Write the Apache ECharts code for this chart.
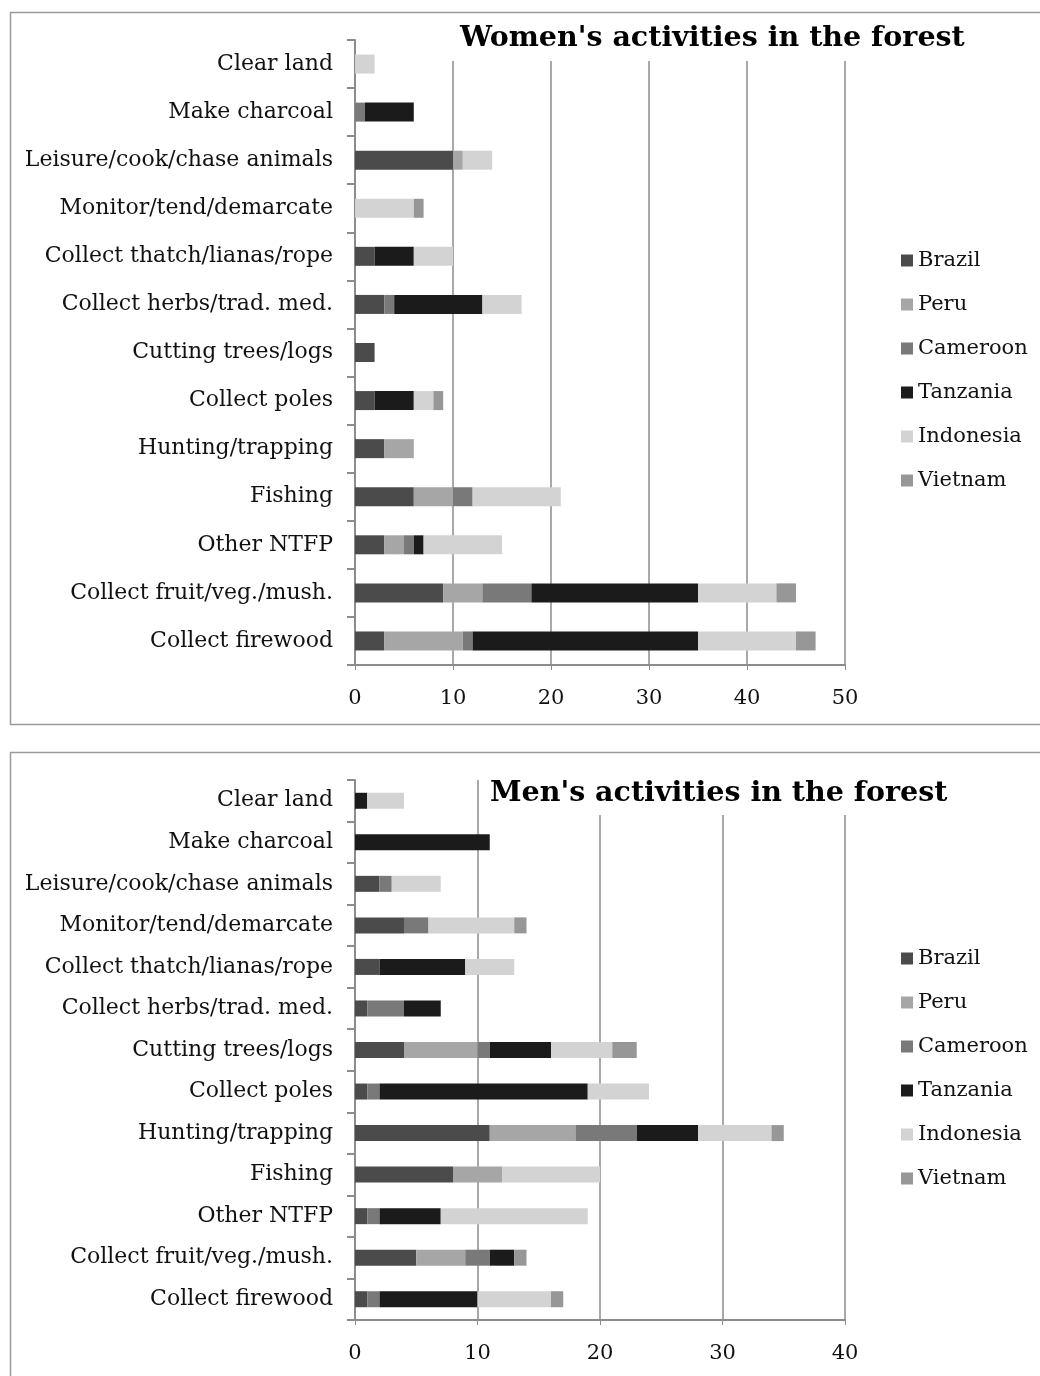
<!DOCTYPE html>
<html>
<head>
<meta charset="utf-8">
<script src="https://cdn.jsdelivr.net/npm/echarts@6/dist/echarts.min.js"></script>
<style>
  html, body { margin: 0; padding: 0; background: #fff; }
  #chart { width: 1040px; height: 1376px; }
</style>
</head>
<body>
<div id="chart"></div>
<script>
// activities, top to bottom (same list for both panels)
const activities = [
  'Clear land', 'Make charcoal', 'Leisure/cook/chase animals', 'Monitor/tend/demarcate',
  'Collect thatch/lianas/rope', 'Collect herbs/trad. med.', 'Cutting trees/logs',
  'Collect poles', 'Hunting/trapping', 'Fishing', 'Other NTFP',
  'Collect fruit/veg./mush.', 'Collect firewood'
];
const countries = ['Brazil', 'Peru', 'Cameroon', 'Tanzania', 'Indonesia', 'Vietnam'];
const countryColors = ['#4b4b4b', '#a6a6a6', '#797979', '#1b1b1b', '#d3d3d3', '#979797'];

// women
const womenBrazil    = [0, 0, 10, 0, 2, 3, 2, 2, 3, 6, 3, 9, 3];
const womenPeru      = [0, 0, 1, 0, 0, 0, 0, 0, 3, 4, 2, 4, 8];
const womenCameroon  = [0, 1, 0, 0, 0, 1, 0, 0, 0, 2, 1, 5, 1];
const womenTanzania  = [0, 5, 0, 0, 4, 9, 0, 4, 0, 0, 1, 17, 23];
const womenIndonesia = [2, 0, 3, 6, 4, 4, 0, 2, 0, 9, 8, 8, 10];
const womenVietnam   = [0, 0, 0, 1, 0, 0, 0, 1, 0, 0, 0, 2, 2];

// men
const menBrazil    = [0, 0, 2, 4, 2, 1, 4, 1, 11, 8, 1, 5, 1];
const menPeru      = [0, 0, 0, 0, 0, 0, 6, 0, 7, 4, 0, 4, 0];
const menCameroon  = [0, 0, 1, 2, 0, 3, 1, 1, 5, 0, 1, 2, 1];
const menTanzania  = [1, 11, 0, 0, 7, 3, 5, 17, 5, 0, 5, 2, 8];
const menIndonesia = [3, 0, 4, 7, 4, 0, 5, 5, 6, 8, 12, 0, 6];
const menVietnam   = [0, 0, 0, 1, 0, 0, 2, 0, 1, 0, 0, 1, 1];

const womenData = [womenBrazil, womenPeru, womenCameroon, womenTanzania, womenIndonesia, womenVietnam];
const menData = [menBrazil, menPeru, menCameroon, menTanzania, menIndonesia, menVietnam];

const FONT = 'DejaVu Serif';
const LINE = '#8c8c8c';

function valueAxis(gridIndex, max) {
  return {
    type: 'value', gridIndex, min: 0, max, interval: 10,
    axisLine: { show: true, lineStyle: { color: LINE, width: 2 } },
    axisTick: { show: true, length: 5, lineStyle: { color: LINE } },
    splitLine: { show: true, lineStyle: { color: LINE, width: 1.5 } },
    axisLabel: { color: '#111', fontFamily: FONT, fontSize: 21, margin: 23 }
  };
}

function categoryAxis(gridIndex) {
  return {
    type: 'category', gridIndex, data: activities, inverse: true,
    axisLine: { show: true, lineStyle: { color: LINE, width: 2 } },
    axisTick: { show: true, length: 8, lineStyle: { color: LINE, width: 2 } },
    axisLabel: { color: '#111', fontFamily: FONT, fontSize: 22, margin: 22 }
  };
}

function makeSeries(data, idx, barWidth) {
  return countries.map((name, i) => ({
    name, type: 'bar', stack: 'total' + idx,
    xAxisIndex: idx, yAxisIndex: idx,
    barWidth, data: data[i],
    itemStyle: { color: countryColors[i] },
    silent: true
  }));
}

function legend(top) {
  return {
    orient: 'vertical', left: 896, top,
    icon: 'rect', itemWidth: 12, itemHeight: 12, itemGap: 23,
    data: countries,
    textStyle: { color: '#111', fontFamily: FONT, fontSize: 21, lineHeight: 21 }
  };
}

const titleStyle = { fontFamily: FONT, fontWeight: 'bold', fontSize: 28.5, color: '#000' };

const chart = echarts.init(document.getElementById('chart'));
chart.setOption({
  animation: false,
  color: countryColors,
  title: [
    {
      text: "Women's activities in the forest", left: 448, top: 20,
      padding: [4, 12, 8, 12], backgroundColor: '#fff', textStyle: titleStyle
    },
    {
      text: "Men's activities in the forest", left: 480, top: 775,
      padding: [4, 10, 7, 10], backgroundColor: '#fff', textStyle: titleStyle
    }
  ],
  legend: [legend(245), legend(943)],
  grid: [
    { left: 355, width: 490, top: 40, height: 625 },
    { left: 355, width: 490, top: 780, height: 540 }
  ],
  xAxis: [valueAxis(0, 50), valueAxis(1, 40)],
  yAxis: [categoryAxis(0), categoryAxis(1)],
  series: makeSeries(womenData, 0, 19).concat(makeSeries(menData, 1, 16)),
  graphic: [
    { type: 'rect', shape: { x: 10.5, y: 12.5, width: 1040, height: 712 },
      style: { fill: 'none', stroke: '#9a9a9a', lineWidth: 1.5 }, silent: true },
    { type: 'rect', shape: { x: 10.5, y: 752.5, width: 1040, height: 700 },
      style: { fill: 'none', stroke: '#9a9a9a', lineWidth: 1.5 }, silent: true }
  ]
});
</script>
</body>
</html>
